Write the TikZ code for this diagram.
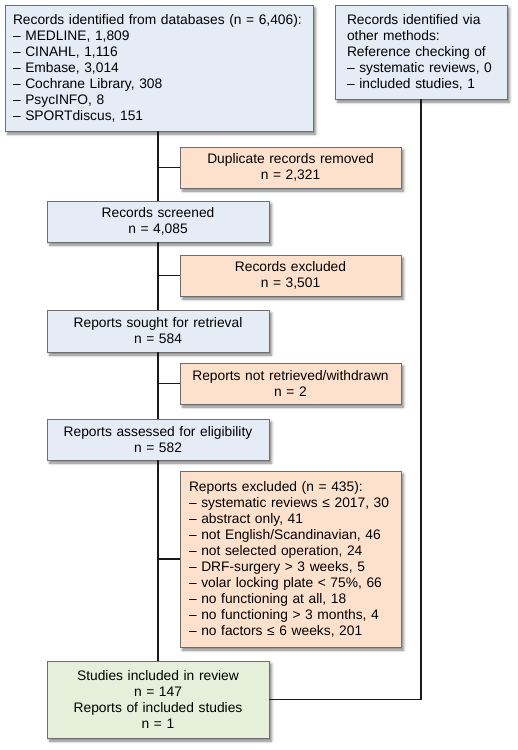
\documentclass[tikz,border=0pt]{standalone}
\usepackage{fontspec}
\setmainfont{Liberation Sans}
\usetikzlibrary{shadows.blur}
\definecolor{boxblue}{HTML}{E6ECF6}
\definecolor{boxorange}{HTML}{FDE1CD}
\definecolor{boxgreen}{HTML}{E5EFD9}
\definecolor{boxline}{HTML}{6E6E6E}
\tikzset{
  flowbox/.style={draw=boxline,line width=0.8pt,inner ysep=0pt,
    font=\fontsize{13.8}{16}\selectfont,text=black,
    blur shadow={shadow xshift=2.5pt,shadow yshift=-3pt,
      shadow blur radius=2.5pt,shadow opacity=50}},
  bluebox/.style={flowbox,fill=boxblue},
  orangebox/.style={flowbox,fill=boxorange},
  greenbox/.style={flowbox,fill=boxgreen},
  link/.style={draw=black!90,line width=1.6pt}
}

\begin{document}
\begin{tikzpicture}[x=1pt,y=-1pt]
\useasboundingbox (0,0) rectangle (518,750);

\node[bluebox,align=left,inner xsep=8pt,text width=292pt,minimum height=126pt] (db) at (159,68)
  {Records identified from databases (n = 6,406):\\
   – MEDLINE, 1,809\\
   – CINAHL, 1,116\\
   – Embase, 3,014\\
   – Cochrane Library, 308\\
   – PsycINFO, 8\\
   – SPORTdiscus, 151};
\node[bluebox,align=left,inner xsep=12pt,text width=148pt,minimum height=94pt] (other) at (421,52)
  {Records identified via\\
   other methods:\\
   Reference checking of\\
   – systematic reviews, 0\\
   – included studies, 1};

\node[orangebox,align=center,inner xsep=4pt,text width=213pt,minimum height=41pt] (dup) at (290.5,167.5)
  {Duplicate records removed\\ n = 2,321};
\node[bluebox,align=center,inner xsep=4pt,text width=214pt,minimum height=41pt] (screen) at (158,221.5)
  {Records screened\\ n = 4,085};
\node[orangebox,align=center,inner xsep=4pt,text width=213pt,minimum height=41pt] (recexcl) at (290.5,275.5)
  {Records excluded\\ n = 3,501};
\node[bluebox,align=center,inner xsep=4pt,text width=214pt,minimum height=42pt] (sought) at (158,331)
  {Reports sought for retrieval\\ n = 584};
\node[orangebox,align=center,inner xsep=4pt,text width=213pt,minimum height=41pt] (notret) at (290.5,383.5)
  {Reports not retrieved/withdrawn\\ n = 2};
\node[bluebox,align=center,inner xsep=4pt,text width=214pt,minimum height=41pt] (assess) at (158,439.5)
  {Reports assessed for eligibility\\ n = 582};
\node[orangebox,align=left,inner xsep=9pt,text width=203pt,minimum height=176pt] (repexcl) at (290.5,559)
  {Reports excluded (n = 435):\\
   – systematic reviews ≤ 2017, 30\\
   – abstract only, 41\\
   – not English/Scandinavian, 46\\
   – not selected operation, 24\\
   – DRF-surgery > 3 weeks, 5\\
   – volar locking plate < 75\%, 66\\
   – no functioning at all, 18\\
   – no functioning > 3 months, 4\\
   – no factors ≤ 6 weeks, 201};
\node[greenbox,align=center,inner xsep=4pt,text width=214pt,minimum height=77pt] (incl) at (158,699.5)
  {Studies included in review\\ n = 147\\ Reports of included studies\\ n = 1};

\draw[link] (screen.north |- db.south) -- (screen.north);
\draw[link] (screen.south) -- (sought.north);
\draw[link] (sought.south) -- (assess.north);
\draw[link] (assess.south) -- (incl.north);
\draw[link] (dup.west) -- (dup.west -| screen.north);
\draw[link] (recexcl.west) -- (recexcl.west -| screen.south);
\draw[link] (notret.west) -- (notret.west -| sought.south);
\draw[link] (repexcl.west) -- (repexcl.west -| assess.south);
\draw[link] (other.south) |- (incl.east);
\end{tikzpicture}
\end{document}
